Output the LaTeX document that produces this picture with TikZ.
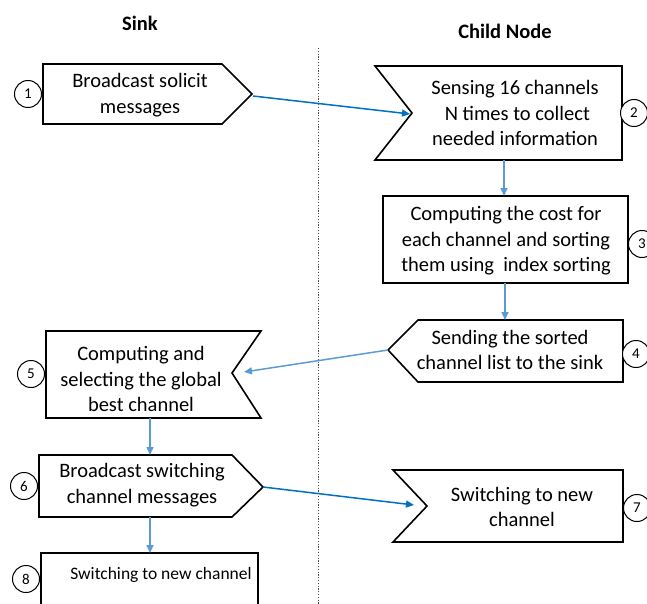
\documentclass[tikz,border=0pt]{standalone}
\usepackage{fontspec}
\setmainfont{Carlito}
\usetikzlibrary{arrows.meta}
\definecolor{darkblue}{RGB}{0,112,192}
\definecolor{lightblue}{RGB}{91,155,213}
\begin{document}
\begin{tikzpicture}[x=1pt,y=-1pt,
 box/.style={draw=black, line width=1.6pt, line join=miter},
 txt/.style={align=center, font=\fontsize{20.5}{25.5}\selectfont, inner sep=0pt},
 head/.style={font=\fontsize{20.5}{24}\selectfont\bfseries, inner sep=0pt},
 num/.style={circle, draw, line width=1pt, minimum size=27pt, inner sep=0pt, font=\fontsize{15}{15}\selectfont, fill=white},
 conn/.style={line width=1.5pt, -{Triangle[length=8pt,width=7pt]}},
]
\useasboundingbox (0,0) rectangle (647,604);
% headings
\node[head] (hsink) at (140,23) {Sink};
\node[head] (hchild) at (505,31) {Child Node};
% divider
\draw[line width=1pt, black!70, dash pattern=on 1.2pt off 1.6pt] (318,48) -- (318,604);

% Box 1
\draw[box] (43,64) -- (222,64) -- (252,94) -- (222,124) -- (43,124) -- cycle;
\coordinate (b1out) at (253,96);
\node[txt] (t1) at (140,95) {Broadcast solicit\\messages};
\node[num] (n1) at (28,94) {1};

% Box 2
\draw[box] (375,66) -- (622,66) -- (622,160) -- (375,160) -- (412,113) -- cycle;
\coordinate (b2in) at (410,114);
\coordinate (b2bot) at (504,160);
\node[txt] (t2) at (515,113) {Sensing 16 channels\\\ N times to collect\\needed information};
\node[num] (n2) at (634,113) {2};

% Box 3
\draw[box] (383,196) rectangle (628,283);
\coordinate (b3top) at (504,196);
\coordinate (b3bot) at (505,283);
\node[txt] (t3) at (506,241) {Computing the cost for\\each channel and sorting\\them using\ \ index sorting};
\node[num] (n3) at (642,244) {3};

% Box 4
\draw[box] (418,320) -- (623,320) -- (623,382) -- (418,382) -- (388,350) -- cycle;
\coordinate (b4top) at (505,320);
\coordinate (b4out) at (388,350);
\node[txt] (t4) at (510,350) {Sending the sorted\\channel list to the sink};
\node[num] (n4) at (636,354) {4};

% Box 5
\draw[box] (46,331) -- (261,331) -- (232,373) -- (261,418) -- (46,418) -- cycle;
\coordinate (b5in) at (244,372);
\coordinate (b5bot) at (150,418);
\node[txt] (t5) at (141,379) {Computing and\\selecting the global\\best channel};
\node[num] (n5) at (31,374) {5};

% Box 6
\draw[box] (39,455) -- (232,455) -- (263,487) -- (232,517) -- (39,517) -- cycle;
\coordinate (b6top) at (150,455);
\coordinate (b6out) at (263,487);
\coordinate (b6bot) at (150,517);
\node[txt] (t6) at (142,485) {Broadcast switching\\channel messages};
\node[num] (n6) at (24,486) {6};

% Box 7
\draw[box] (393,470) -- (623,470) -- (623,542) -- (393,542) -- (427,506) -- cycle;
\coordinate (b7in) at (414,505);
\node[txt] (t7) at (522,507) {Switching to new\\channel};
\node[num] (n7) at (637,508) {7};

% Box 8
\draw[box] (41,604) -- (41,553) -- (258,553) -- (258,604);
\coordinate (b8top) at (150,553);
\node[font=\fontsize{17.5}{20}\selectfont, inner sep=0pt] (t8) at (161,575) {Switching to new channel};
\node[num] (n8) at (26,579) {8};

% connectors
\draw[conn, darkblue] (b1out) -- (b2in);
\draw[conn, lightblue] (b2bot) -- (b3top);
\draw[conn, lightblue] (b3bot) -- (b4top);
\draw[conn, lightblue] (b4out) -- (b5in);
\draw[conn, lightblue] (b5bot) -- (b6top);
\draw[conn, darkblue] (b6out) -- (b7in);
\draw[conn, lightblue] (b6bot) -- (b8top);
\end{tikzpicture}
\end{document}
